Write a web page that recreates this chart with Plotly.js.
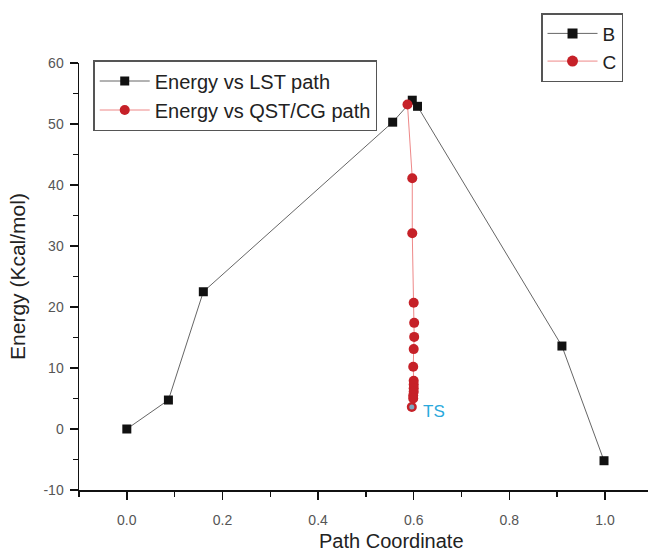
<!DOCTYPE html>
<html>
<head>
<meta charset="utf-8">
<script src="https://cdn.plot.ly/plotly-3.0.1.min.js"></script>
<style>html,body{margin:0;padding:0;background:#fff;}#chart{width:648px;height:554px;}</style>
</head>
<body>
<div id="chart"></div>
<script>
// Series B: Energy vs LST path
const lstX = [0.0, 0.087, 0.160, 0.556, 0.597, 0.608, 0.910, 0.998];
const lstY = [0.0, 4.75, 22.5, 50.3, 53.9, 52.9, 13.6, -5.2];
// Series C: Energy vs QST/CG path
const qstX = [0.587, 0.597, 0.597, 0.600, 0.601, 0.601, 0.600, 0.599, 0.600, 0.600, 0.600, 0.600, 0.599, 0.599, 0.596];
const qstY = [53.2, 41.1, 32.1, 20.7, 17.4, 15.1, 13.1, 10.2, 7.9, 7.3, 6.7, 6.1, 5.5, 5.0, 3.6];
// Transition state
const tsX = [0.596];
const tsY = [3.6];
const tsLabel = 'TS';
const xTicks = [0.0, 0.2, 0.4, 0.6, 0.8, 1.0];
const xTickText = ['0.0', '0.2', '0.4', '0.6', '0.8', '1.0'];
const yTicks = [-10, 0, 10, 20, 30, 40, 50, 60];
const yTickText = ['-10', '0', '10', '20', '30', '40', '50', '60'];

const black = '#111111';
const red = '#c62128';
const traces = [
  {x: lstX, y: lstY, type: 'scatter', mode: 'lines+markers', name: 'Energy vs LST path',
   line: {color: '#666666', width: 1}, marker: {symbol: 'square', size: 9, color: black}, legend: 'legend'},
  {x: qstX, y: qstY, type: 'scatter', mode: 'lines+markers', name: 'Energy vs QST/CG path',
   line: {color: '#ee8888', width: 1}, marker: {symbol: 'circle', size: 10, color: red}, legend: 'legend'},
  {x: tsX, y: tsY, type: 'scatter', mode: 'markers', showlegend: false,
   marker: {symbol: 'circle', size: 5, color: '#7aa7c0'}},
  {x: [null], y: [null], type: 'scatter', mode: 'lines+markers', name: 'B',
   line: {color: '#666666', width: 1}, marker: {symbol: 'square', size: 10, color: black}, legend: 'legend2'},
  {x: [null], y: [null], type: 'scatter', mode: 'lines+markers', name: 'C',
   line: {color: '#ee8888', width: 1}, marker: {symbol: 'circle', size: 11, color: red}, legend: 'legend2'}
];

const fontFam = 'Liberation Sans, Arial, sans-serif';
const layout = {
  width: 648, height: 554,
  margin: {l: 79, r: 0, t: 63, b: 64},
  paper_bgcolor: '#ffffff', plot_bgcolor: '#ffffff',
  font: {family: fontFam, color: '#222'},
  xaxis: {
    range: [-0.1, 1.09], showgrid: false, zeroline: false,
    showline: true, linecolor: '#111', linewidth: 1.5,
    ticks: 'outside', ticklen: 8, tickwidth: 1.5, tickcolor: '#111',
    tickvals: xTicks, ticktext: xTickText, ticklabelstandoff: 9,
    minor: {dtick: 0.1, ticks: 'outside', ticklen: 5, tickwidth: 1.5, tickcolor: '#111'},
    tickfont: {size: 14, color: '#555'}
  },
  yaxis: {
    range: [-10, 60], showgrid: false, zeroline: false,
    showline: true, linecolor: '#111', linewidth: 1.5,
    ticks: 'outside', ticklen: 8, tickwidth: 1.5, tickcolor: '#111',
    tickvals: yTicks, ticktext: yTickText, ticklabelstandoff: 3,
    minor: {dtick: 5, ticks: 'outside', ticklen: 5, tickwidth: 1.5, tickcolor: '#111'},
    tickfont: {size: 14, color: '#555'},
    title: {text: 'Energy (Kcal/mol)', font: {size: 21, color: '#222'}, standoff: 12}
  },
  legend: {
    x: 0.025, y: 1.007, xanchor: 'left', yanchor: 'top',
    bgcolor: '#ffffff', bordercolor: '#555', borderwidth: 1.5,
    font: {size: 20, color: '#222', family: fontFam}, itemwidth: 50, tracegroupgap: 0
  },
  legend2: {
    x: 0.812, y: 1.117, xanchor: 'left', yanchor: 'top',
    bgcolor: '#ffffff', bordercolor: '#555', borderwidth: 1.5,
    font: {size: 19, color: '#222', family: fontFam}, itemwidth: 50
  },
  annotations: [
    {x: tsX[0], y: tsY[0], xref: 'x', yref: 'y', text: tsLabel, showarrow: false,
     xanchor: 'left', yanchor: 'middle', xshift: 9, yshift: -4,
     font: {size: 17, color: '#2aa9dc', family: fontFam}},
    {x: (391 - 79) / 569, y: -(541 - 490) / 427, xref: 'paper', yref: 'paper', text: 'Path Coordinate',
     showarrow: false, font: {size: 20, color: '#222', family: fontFam}, xanchor: 'center', yanchor: 'middle'}
  ]
};

Plotly.newPlot('chart', traces, layout, {displayModeBar: false, staticPlot: true});
</script>
</body>
</html>
